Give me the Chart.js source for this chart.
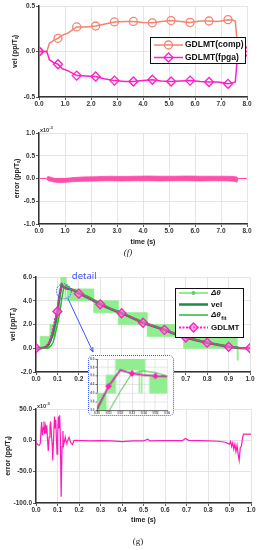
<!DOCTYPE html>
<html>
<head>
<meta charset="utf-8">
<script src="https://cdn.jsdelivr.net/npm/chart.js@4.4.1/dist/chart.umd.min.js"></script>
<style>
body { margin: 0; width: 258px; height: 550px; position: relative; background: #fff; overflow: hidden; }
canvas { position: absolute; left: 0; }
.cap { position: absolute; font: 9px "Liberation Serif", serif; color: #222; transform: translateX(-50%); }
#c5 { border: 1px dotted #3f55ff; border-radius: 5px; background: #fff; }
</style>
</head>
<body>
<canvas id="c1" width="258" height="112" style="top:0"></canvas>
<canvas id="c2" width="258" height="148" style="top:112px"></canvas>
<div class="cap" style="left:128px;top:247px"><i>(f)</i></div>
<canvas id="c3" width="258" height="124" style="top:262px"></canvas>
<canvas id="c4" width="258" height="144" style="top:386px"></canvas>
<div class="cap" style="left:138px;top:536px">(g)</div>
<canvas id="c5" width="86" height="61" style="left:88px;top:355px"></canvas>
<script>
// (f) upper: velocity of the two GDLMT versions
var velT    = [0, 0.3, 0.4, 0.55, 0.73, 0.9, 1.1, 1.3, 1.45, 1.8, 2.18, 2.5, 2.9, 3.3, 3.63, 4.0, 4.36, 4.7, 5.08, 5.45, 5.81, 6.2, 6.54, 6.9, 7.27, 7.45, 7.55, 7.6, 7.64, 8.0];
var velComp = [0, 0, 0.09, 0.12, 0.145, 0.18, 0.2, 0.24, 0.27, 0.27, 0.28, 0.3, 0.325, 0.33, 0.33, 0.32, 0.315, 0.33, 0.34, 0.33, 0.32, 0.335, 0.335, 0.33, 0.35, 0.345, 0.335, 0.17, 0, 0];
var velFpga = [0, 0, -0.09, -0.12, -0.14, -0.19, -0.21, -0.24, -0.265, -0.27, -0.275, -0.3, -0.32, -0.33, -0.33, -0.32, -0.31, -0.325, -0.33, -0.325, -0.32, -0.33, -0.335, -0.335, -0.355, -0.345, -0.335, -0.17, 0, 0];
var velMarkT = [0, 0.73, 1.45, 2.18, 2.9, 3.63, 4.36, 5.08, 5.81, 6.54, 7.27, 8.0];

// (f) lower: error band (x10^-3)
var errT  = [0.3, 0.35, 0.45, 0.6, 0.8, 1.0, 1.3, 1.7, 2.2, 2.7, 3.2, 3.7, 4.2, 4.7, 5.2, 5.7, 6.2, 6.7, 7.2, 7.5, 7.62, 7.66];
var errHi = [0.02, 0.045, 0.03, 0.0, -0.01, 0.0, 0.02, 0.035, 0.04, 0.05, 0.045, 0.05, 0.055, 0.05, 0.05, 0.055, 0.05, 0.05, 0.05, 0.045, 0.03, 0];
var errLo = [-0.02, -0.05, -0.06, -0.08, -0.09, -0.085, -0.07, -0.06, -0.055, -0.05, -0.055, -0.05, -0.05, -0.055, -0.05, -0.05, -0.055, -0.05, -0.05, -0.06, -0.08, 0];
var errFlatT = [0, 0.3, 7.66, 8.0];
var errFlat  = [0, 0, 0, 0];

// (g) upper: dtheta steps, vel, dtheta_fit, GDLMT
var dtT  = [0, 0.02, 0.065, 0.09, 0.1, 0.108, 0.116, 0.136, 0.1365, 0.138, 0.1385, 0.141, 0.145, 0.27, 0.385, 0.52, 0.69, 0.94, 0.945, 0.955, 1.0];
var dtLo = [0, 0, 1, 2, 3, 4, 5.35, 4, 5.35, 4, 5.35, 5, 4, 3, 2, 1, 0, -1, 0, 0, 0];
var dtHi = [0, 1, 2, 3, 4, 5.05, 6, 6, 6, 6, 6, 5, 5, 4, 3, 2, 1, 0, 0, 0, 0];
var gT   = [0, 0.02, 0.04, 0.05, 0.06, 0.07, 0.08, 0.09, 0.1, 0.11, 0.12, 0.13, 0.14, 0.15, 0.16, 0.18, 0.2, 0.25, 0.3, 0.35, 0.4, 0.45, 0.5, 0.55, 0.6, 0.65, 0.7, 0.75, 0.8, 0.85, 0.9, 0.95, 1.0];
var velG = [0, 0, 0.05, 0.15, 0.35, 0.75, 1.3, 2.1, 3.0, 4.4, 5.33, 5.15, 5.05, 5.0, 4.98, 4.85, 4.65, 4.2, 3.7, 3.3, 2.95, 2.55, 2.15, 1.85, 1.55, 1.2, 0.9, 0.68, 0.47, 0.3, 0.12, 0.03, 0];
var gdlG = [0, 0, 0.08, 0.2, 0.45, 0.9, 1.7, 2.5, 3.1, 4.4, 5.37, 5.15, 5.05, 5.0, 4.98, 4.85, 4.6, 4.15, 3.7, 3.3, 2.95, 2.55, 2.15, 1.85, 1.55, 1.2, 0.9, 0.68, 0.47, 0.3, 0.12, 0.03, 0];
var fitG = [0, 0, 0, 0, 0.05, 0.2, 0.5, 1.2, 2.0, 2.9, 4.1, 5.15, 5.3, 5.2, 5.0, 4.9, 4.7, 4.3, 3.8, 3.35, 3.0, 2.6, 2.2, 1.9, 1.6, 1.25, 0.95, 0.72, 0.5, 0.32, 0.14, 0.04, 0];
var gMarkT = [0, 0.1, 0.2, 0.3, 0.4, 0.5, 0.6, 0.7, 0.8, 0.9, 1.0];
var insetMarkT = [0.11, 0.13, 0.15];

// (g) lower: error (x10^-3)
var eT = [0, 0.008, 0.015, 0.02, 0.026, 0.03, 0.034, 0.037, 0.04, 0.044, 0.047, 0.05, 0.053, 0.057, 0.061, 0.065, 0.068, 0.072, 0.075, 0.078,
          0.082, 0.086, 0.089, 0.092, 0.095, 0.098, 0.101, 0.104, 0.107, 0.11, 0.113, 0.117, 0.121, 0.125, 0.128, 0.132, 0.136, 0.14, 0.144, 0.149,
          0.154, 0.159, 0.164, 0.17, 0.175, 0.18, 0.25, 0.3, 0.35, 0.4, 0.45, 0.5, 0.52, 0.53, 0.6, 0.68, 0.695, 0.71, 0.8, 0.85,
          0.88, 0.9, 0.905, 0.91, 0.915, 0.92, 0.925, 0.93, 0.935, 0.94, 0.945, 0.95, 0.955, 0.96, 0.965, 0.97, 1.0];
var eV = [-3, -7, -8, -5, 29, 8, 20, 30, 10, 22, 12, 24, 5, -17, 5, 22, 30, 8, -5, -32,
          5, 38, 20, 33, 2, -22, 10, 38, 20, 40, 10, -90, -10, 15, -8, -2, 5, -2, -4, 1,
          5, -1, -5, -7, -1, 0, -1, -0.5, -1, -2, -1, -1, 2, -1, -0.5, -0.5, 3, 0, -1, -1.5,
          -3, -6, -2, -10, -4, -14, -6, -18, -8, -22, -32, -12, -10, 2, 10, 10, 10];

Chart.defaults.font.family = '"Liberation Sans", Arial, sans-serif';
Chart.defaults.font.size = 6.5;
Chart.defaults.font.weight = 'bold';
Chart.defaults.color = '#333';
Chart.defaults.animation = false;

function pts(xs, ys) {
    return xs.map(function (x, i) { return { x: x, y: ys[i] }; });
}

function marks(list, r) {
    return function (ctx) {
        if (!ctx.raw) return 0;
        return list.some(function (m) { return Math.abs(m - ctx.raw.x) < 1e-6; }) ? r : 0;
    };
}

function axes(c) {
    var ts = c.tickSize || 6.5;
    var tl = c.tickLen || 3;
    var bw = c.borderW || 1.5;
    return {
        x: {
            type: 'linear', min: c.xmin, max: c.xmax,
            afterFit: function (s) { s.height = c.xh; },
            ticks: { stepSize: c.xstep, autoSkip: false, maxRotation: 0, padding: 0, font: { size: ts },
                     callback: function (v) { return v.toFixed(c.xdec); } },
            grid: { color: '#dedede', lineWidth: 0.8, tickLength: tl, tickColor: '#333' },
            border: { color: '#333', width: bw },
            title: { display: !!c.xtitle, text: c.xtitle || '', color: '#222', font: { size: 7, weight: 'bold' },
                     padding: { top: 0, bottom: c.xtpad || 0 } }
        },
        y: {
            min: c.ymin, max: c.ymax,
            afterFit: function (s) { s.width = c.yw; },
            ticks: { stepSize: c.ystep, autoSkip: false, padding: 1, font: { size: ts },
                     callback: function (v) { return v.toFixed(c.ydec); } },
            grid: { color: '#dedede', lineWidth: 0.8, tickLength: tl, tickColor: '#333' },
            border: { color: '#333', width: bw },
            title: { display: !!c.ytitle, text: c.ytitle || '', color: '#222', font: { size: 7, weight: 'bold' },
                     padding: { top: c.ytpad || 0, bottom: 0 } }
        }
    };
}

function drawMarker(ctx, kind, x, y, r, stroke, fill) {
    ctx.beginPath();
    if (kind === 'diamond') {
        ctx.moveTo(x, y - r); ctx.lineTo(x + r, y); ctx.lineTo(x, y + r); ctx.lineTo(x - r, y); ctx.closePath();
    } else {
        ctx.arc(x, y, r, 0, Math.PI * 2);
    }
    if (fill) { ctx.fillStyle = fill; ctx.fill(); }
    ctx.strokeStyle = stroke; ctx.lineWidth = 1.3; ctx.stroke();
}

// legend box with line + marker samples
function legendBox(cfg) {
    return {
        id: 'legendBox',
        afterDraw: function (chart) {
            var ctx = chart.ctx;
            ctx.save();
            ctx.fillStyle = '#fff';
            ctx.fillRect(cfg.x, cfg.y, cfg.w, cfg.h);
            ctx.strokeStyle = '#111'; ctx.lineWidth = 1;
            ctx.strokeRect(cfg.x + 0.5, cfg.y + 0.5, cfg.w, cfg.h);
            cfg.items.forEach(function (it) {
                ctx.save();
                ctx.strokeStyle = it.color; ctx.lineWidth = it.width;
                ctx.setLineDash(it.dash || []);
                ctx.beginPath(); ctx.moveTo(cfg.lx0, it.y); ctx.lineTo(cfg.lx1, it.y); ctx.stroke();
                ctx.setLineDash([]);
                if (it.marker) drawMarker(ctx, it.marker, (cfg.lx0 + cfg.lx1) / 2, it.y, it.r, it.mColor || it.color, it.mFill);
                ctx.fillStyle = '#111';
                ctx.textBaseline = 'middle';
                ctx.font = (it.italic ? 'italic ' : '') + 'bold ' + cfg.font + 'px "Liberation Sans", Arial, sans-serif';
                ctx.fillText(it.label, cfg.tx, it.y);
                if (it.sub) {
                    var w = ctx.measureText(it.label).width;
                    ctx.font = 'bold ' + (cfg.font - 2.5) + 'px "Liberation Sans", Arial, sans-serif';
                    ctx.fillText(it.sub, cfg.tx + w + 0.5, it.y + 3);
                }
                ctx.restore();
            });
            ctx.restore();
        }
    };
}

// "x10^-3" at the top left corner of the plot
function expo() {
    return {
        id: 'expo',
        afterDraw: function (chart) {
            var ctx = chart.ctx, a = chart.chartArea;
            ctx.save();
            ctx.fillStyle = '#333';
            ctx.textBaseline = 'alphabetic';
            ctx.font = 'bold 5.5px "Liberation Sans", Arial, sans-serif';
            ctx.fillText('x10', a.left + 1, a.top - 1.5);
            var w = ctx.measureText('x10').width;
            ctx.font = 'bold 4px "Liberation Sans", Arial, sans-serif';
            ctx.fillText('-3', a.left + 1 + w, a.top - 4.5);
            ctx.restore();
        }
    };
}

// blue "detail" circle + arrow pointing at the inset
var detailX = 0.13, detailY = 4.8;
var arrowEnd = { x: 93, y: 90 };
var detailNote = {
    id: 'detailNote',
    afterDraw: function (chart) {
        var ctx = chart.ctx;
        var cx = chart.scales.x.getPixelForValue(detailX);
        var cy = chart.scales.y.getPixelForValue(detailY);
        ctx.save();
        ctx.strokeStyle = '#3f55ff'; ctx.lineWidth = 1;
        ctx.setLineDash([1.5, 1.2]);
        ctx.beginPath(); ctx.arc(cx, cy, 7.5, 0, Math.PI * 2); ctx.stroke();
        ctx.setLineDash([]);
        var sx = cx + 4, sy = cy + 7;
        ctx.beginPath(); ctx.moveTo(sx, sy); ctx.lineTo(arrowEnd.x, arrowEnd.y); ctx.stroke();
        var ang = Math.atan2(arrowEnd.y - sy, arrowEnd.x - sx);
        ctx.beginPath();
        ctx.moveTo(arrowEnd.x, arrowEnd.y);
        ctx.lineTo(arrowEnd.x - 5 * Math.cos(ang - 0.4), arrowEnd.y - 5 * Math.sin(ang - 0.4));
        ctx.moveTo(arrowEnd.x, arrowEnd.y);
        ctx.lineTo(arrowEnd.x - 5 * Math.cos(ang + 0.4), arrowEnd.y - 5 * Math.sin(ang + 0.4));
        ctx.stroke();
        ctx.fillStyle = '#3f55ff';
        ctx.font = '9.5px "Noto Sans", "DejaVu Sans", sans-serif';
        ctx.textBaseline = 'middle';
        ctx.fillText('detail', cx + 8, cy - 15);
        ctx.restore();
    }
};

var COMP = '#f4836f', FPGA = '#ff1ec8', ERR2 = '#ff4fab', ERR4 = '#ff1ab8';
var LGREEN = '#90ee90', DGREEN = '#1d8a45', FGREEN = '#2fb82f', GDL = '#ff1fbf';

// (f) velocity
new Chart(document.getElementById('c1'), {
    type: 'line',
    data: {
        datasets: [
            { data: pts(velT, velFpga), borderColor: FPGA, borderWidth: 1.5, pointStyle: 'rectRot',
              pointRadius: marks(velMarkT, 4.5), pointBorderColor: FPGA, pointBackgroundColor: 'rgba(255,255,255,0)', pointBorderWidth: 1.3 },
            { data: pts(velT, velComp), borderColor: COMP, borderWidth: 1.5, pointStyle: 'circle',
              pointRadius: marks(velMarkT, 4), pointBorderColor: COMP, pointBackgroundColor: 'rgba(255,255,255,0)', pointBorderWidth: 1.3 }
        ]
    },
    options: {
        responsive: false,
        layout: { padding: { left: 0, top: 6, right: 11, bottom: 0 } },
        plugins: { legend: { display: false }, tooltip: { enabled: false } },
        scales: axes({ xmin: 0, xmax: 8, xstep: 1, xdec: 1, ymin: -0.5, ymax: 0.5, ystep: 0.5, ydec: 1,
                       yw: 39, xh: 15, ytitle: 'vel (pp/Tₛ)', ytpad: 10.8 })
    },
    plugins: [legendBox({ x: 150, y: 37, w: 95, h: 26, lx0: 154, lx1: 183, tx: 185, font: 8.5,
        items: [
            { label: 'GDLMT(comp)', y: 45, color: COMP, width: 1.5, marker: 'circle', r: 4 },
            { label: 'GDLMT(fpga)', y: 57.5, color: FPGA, width: 1.5, marker: 'diamond', r: 4.5 }
        ] })]
});

// (f) error
new Chart(document.getElementById('c2'), {
    type: 'line',
    data: {
        datasets: [
            { data: pts(errT, errHi), borderColor: ERR2, borderWidth: 0.8, pointRadius: 0, fill: false },
            { data: pts(errT, errLo), borderColor: ERR2, borderWidth: 0.8, pointRadius: 0, fill: '-1', backgroundColor: ERR2 },
            { data: pts(errFlatT, errFlat), borderColor: ERR2, borderWidth: 1, pointRadius: 0 }
        ]
    },
    options: {
        responsive: false,
        layout: { padding: { left: 0, top: 21, right: 11, bottom: 0 } },
        plugins: { legend: { display: false }, tooltip: { enabled: false } },
        scales: axes({ xmin: 0, xmax: 8, xstep: 1, xdec: 1, ymin: -1, ymax: 1, ystep: 0.5, ydec: 1,
                       yw: 39, xh: 36, ytitle: 'error (pp/Tₛ)', ytpad: 12.8, xtitle: 'time (s)', xtpad: 13.8 })
    },
    plugins: [expo()]
});

// (g) velocity
function gDatasets(markList, markR, lineW) {
    return [
        { data: pts(gT, gdlG), borderColor: GDL, borderWidth: lineW, borderDash: markR > 3 ? [2, 1.5] : [], pointStyle: 'rectRot',
          pointRadius: marks(markList, markR), pointBorderColor: GDL, pointBackgroundColor: markR > 3 ? 'rgba(255,110,210,0.55)' : GDL, pointBorderWidth: 1.3 },
        { data: pts(gT, fitG), borderColor: FGREEN, borderWidth: lineW * 0.75, pointRadius: 0 },
        { data: pts(gT, velG), borderColor: DGREEN, borderWidth: lineW * 1.25, pointRadius: 0 },
        { data: pts(dtT, dtHi), borderColor: LGREEN, borderWidth: 0.8, pointRadius: 0, stepped: true, fill: false },
        { data: pts(dtT, dtLo), borderColor: LGREEN, borderWidth: 0.8, pointRadius: 0, stepped: true, fill: '-1', backgroundColor: LGREEN }
    ];
}

new Chart(document.getElementById('c3'), {
    type: 'line',
    data: { datasets: gDatasets(gMarkT, 4.5, 2) },
    options: {
        responsive: false,
        layout: { padding: { left: 0, top: 15, right: 8, bottom: 0 } },
        plugins: { legend: { display: false }, tooltip: { enabled: false } },
        scales: axes({ xmin: 0, xmax: 1, xstep: 0.1, xdec: 1, ymin: -2, ymax: 6, ystep: 2, ydec: 1,
                       yw: 36, xh: 14, ytitle: 'vel (pp/Tₛ)', ytpad: 8.8 })
    },
    plugins: [detailNote, legendBox({ x: 175, y: 26, w: 68, h: 49, lx0: 179, lx1: 208, tx: 211, font: 8,
        items: [
            { label: 'Δθ', italic: true, y: 31, color: LGREEN, width: 2, marker: 'circle', r: 1.3, mColor: '#5fd35f', mFill: '#5fd35f' },
            { label: 'vel', y: 42.5, color: DGREEN, width: 2.5 },
            { label: 'Δθ', italic: true, sub: 'fit', y: 53, color: FGREEN, width: 1.5 },
            { label: 'GDLMT', y: 65.5, color: GDL, width: 2, dash: [2, 1.5], marker: 'diamond', r: 4.5, mFill: 'rgba(255,110,210,0.55)' }
        ] })]
});

// (g) error
new Chart(document.getElementById('c4'), {
    type: 'line',
    data: { datasets: [{ data: pts(eT, eV), borderColor: ERR4, borderWidth: 1.2, pointRadius: 0 }] },
    options: {
        responsive: false,
        layout: { padding: { left: 0, top: 23, right: 7, bottom: 0 } },
        plugins: { legend: { display: false }, tooltip: { enabled: false } },
        scales: axes({ xmin: 0, xmax: 1, xstep: 0.1, xdec: 1, ymin: -100, ymax: 50, ystep: 50, ydec: 1,
                       yw: 36, xh: 27, ytitle: 'error (pp/Tₛ)', ytpad: 3.8, xtitle: 'time (s)', xtpad: 5.8 })
    },
    plugins: [expo()]
});

// inset: zoom on the peak
new Chart(document.getElementById('c5'), {
    type: 'line',
    data: { datasets: gDatasets(insetMarkT, 2.5, 1.3) },
    options: {
        responsive: false,
        layout: { padding: { left: 0, top: 3, right: 6, bottom: 0 } },
        plugins: { legend: { display: false }, tooltip: { enabled: false } },
        scales: axes({ xmin: 0.1, xmax: 0.16, xstep: 0.01, xdec: 2, ymin: 3, ymax: 6, ystep: 0.5, ydec: 1,
                       yw: 8, xh: 5, tickSize: 3, tickLen: 1.5, borderW: 0.8 })
    }
});
</script>
</body>
</html>
